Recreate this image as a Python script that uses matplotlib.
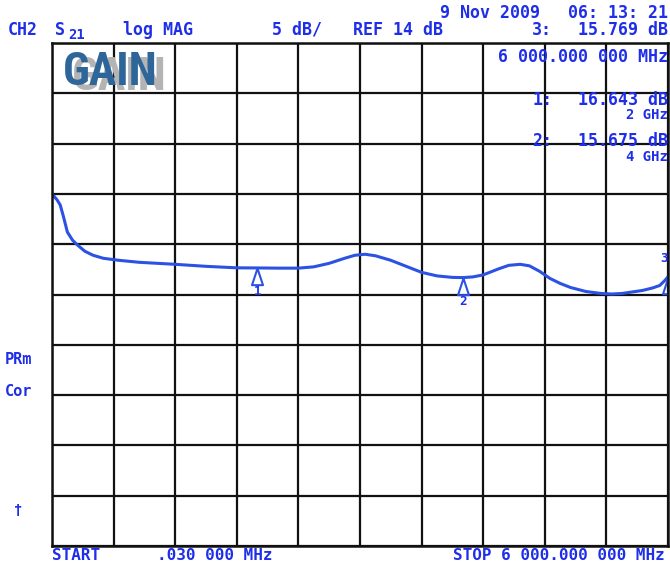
import numpy as np
import matplotlib.pyplot as plt
from matplotlib.path import Path

# trace (GHz, dB)
freq_ghz = [0.00003, 0.05, 0.08, 0.11, 0.15, 0.2, 0.25, 0.32, 0.4, 0.5, 0.65,
            0.85, 1.2, 1.5, 1.8, 2.0, 2.2, 2.4, 2.55, 2.7, 2.85, 2.95, 3.05,
            3.15, 3.3, 3.45, 3.6, 3.75, 3.9, 4.0, 4.1, 4.2, 4.35, 4.45, 4.56,
            4.65, 4.75, 4.85, 4.95, 5.05, 5.2, 5.35, 5.45, 5.55, 5.65, 5.75,
            5.85, 5.92, 5.97, 6.0]
gain_db = [24.0, 23.4, 22.9, 21.8, 20.2, 19.4, 18.9, 18.3, 17.9, 17.6, 17.4,
           17.2, 17.0, 16.8, 16.65, 16.64, 16.62, 16.62, 16.75, 17.1, 17.6,
           17.9, 18.0, 17.85, 17.4, 16.8, 16.2, 15.85, 15.7, 15.68, 15.75,
           15.95, 16.55, 16.9, 17.0, 16.85, 16.3, 15.6, 15.1, 14.7, 14.3,
           14.1, 14.05, 14.1, 14.25, 14.4, 14.65, 14.9, 15.4, 15.77]

marker_ids = ["1", "2", "3"]
marker_f = [2.0, 4.0, 6.0]
marker_db = [16.643, 15.675, 15.769]

ref_db = 14
db_per_div = 5
ndiv = 10

W, H = 670, 565
blue = '#1f2ee8'
trace_blue = '#2b52e3'
mono = ['DejaVu Sans Mono']

fig = plt.figure(figsize=(W / 100, H / 100), dpi=100)
ax = fig.add_axes([52 / W, 1 - 546 / H, 616 / W, 503 / H])

ax.plot(freq_ghz, gain_db, color=trace_blue, lw=2.2, solid_capstyle='round')

# marker triangles, tip sitting on the trace
tri = Path([(0, 0), (-0.33, -1), (0.33, -1), (0, 0)],
           [Path.MOVETO, Path.LINETO, Path.LINETO, Path.CLOSEPOLY])
for mid, f, v in zip(marker_ids, marker_f, marker_db):
    ax.plot(f, v, marker=tri, ms=24, mfc='none', mec=trace_blue, mew=1.5)
    if mid != "3":
        ax.annotate(mid, (f, v), xytext=(0, -17), textcoords='offset points',
                    ha='center', va='center', color=blue, fontsize=9,
                    family=mono, weight='bold', annotation_clip=False)

top = ref_db + db_per_div * ndiv / 2
bot = ref_db - db_per_div * ndiv / 2
ax.set_xlim(0, 6)
ax.set_ylim(bot, top)
ax.set_xticks(np.linspace(0, 6, ndiv + 1))
ax.set_yticks(np.arange(bot, top + 0.1, db_per_div))
ax.grid(True, color='#111111', lw=1.6)
ax.tick_params(length=0, labelbottom=False, labelleft=False)
for s in ax.spines.values():
    s.set_color('#111111')
    s.set_linewidth(1.8)


def put(x, y, s, ha='left', size=12, **kw):
    fig.text(x / W, 1 - y / H, s, ha=ha, va='center', color=blue,
             fontsize=size, family=mono, weight='bold', **kw)


put(440, 13, "9 Nov 2009")
put(668, 13, "06: 13: 21", ha='right')
put(8, 30, "CH2")
put(55, 30, "S")
put(68, 35, "21", size=10)
put(123, 30, "log MAG")
put(272, 30, "5 dB/")
put(353, 30, "REF %d dB" % ref_db)
put(532, 30, "%s:" % marker_ids[2])
put(668, 30, "%.3f dB" % marker_db[2], ha='right')
put(668, 57, "6 000.000 000 MHz", ha='right')
put(532, 100, "%s:" % marker_ids[0])
put(668, 100, "%.3f dB" % marker_db[0], ha='right')
put(668, 115, "%d GHz" % marker_f[0], ha='right', size=10)
put(532, 141, "%s:" % marker_ids[1])
put(668, 141, "%.3f dB" % marker_db[1], ha='right')
put(668, 157, "%d GHz" % marker_f[1], ha='right', size=10)
put(664, 259, marker_ids[2], ha='center', size=9)
put(5, 360, "PRm", size=11)
put(5, 392, "Cor", size=11)
put(14, 510, "†", size=10)
put(52, 556, "START", size=11.5)
put(157, 556, ".030 000 MHz", size=11.5)
put(665, 556, "STOP 6 000.000 000 MHz", ha='right', size=11.5)

# "GAIN" stamp with grey drop shadow
gain_font = ['Roboto Condensed', 'Open Sans Condensed', 'Liberation Sans Narrow',
             'DejaVu Sans']
fig.text(72 / W, 1 - 90 / H, "GAIN", fontsize=33, weight='bold',
         family=gain_font, stretch='condensed', color='#b4b4b4', ha='left',
         va='baseline')
fig.text(63 / W, 1 - 85 / H, "GAIN", fontsize=33, weight='bold',
         family=gain_font, stretch='condensed', color='#2f6699', ha='left',
         va='baseline')

fig.savefig('out.png', dpi=100, facecolor='white')
